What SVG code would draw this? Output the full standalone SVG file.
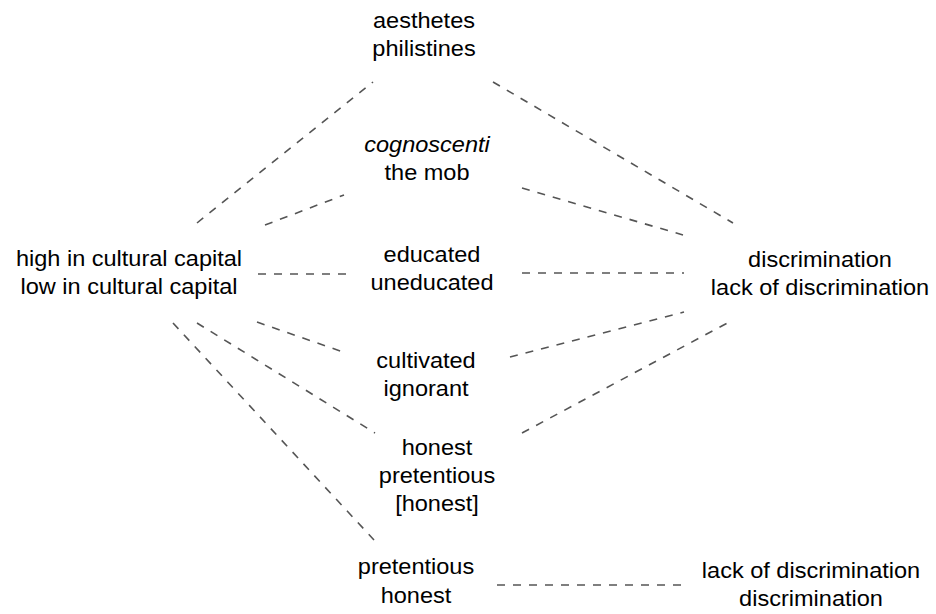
<svg xmlns="http://www.w3.org/2000/svg" width="936" height="614" viewBox="0 0 936 614">
<style>
text{font-family:"Liberation Sans",Arial,sans-serif;font-size:22px;fill:#000;text-anchor:middle}
.it{font-style:italic}
.c line{stroke:#555;stroke-width:1.6;stroke-dasharray:8 8;fill:none}
</style>
<rect width="936" height="614" fill="#fff"/>
<g class="c" id="connectors">
<line x1="197" y1="223" x2="373" y2="82"/>
<line x1="265" y1="225" x2="344" y2="195"/>
<line x1="258" y1="274" x2="349" y2="274"/>
<line x1="257" y1="322" x2="343" y2="352"/>
<line x1="197" y1="323" x2="375" y2="433"/>
<line x1="173" y1="323" x2="374" y2="540"/>
<line x1="493" y1="82" x2="733" y2="223"/>
<line x1="522" y1="188" x2="683" y2="235"/>
<line x1="522" y1="273" x2="684" y2="273"/>
<line x1="510" y1="357" x2="684" y2="312"/>
<line x1="522" y1="433" x2="733" y2="320"/>
<line x1="497" y1="585" x2="688" y2="585"/>
</g>
<g id="capital" transform="translate(129,0) scale(1.07,1)"><text x="0" y="266">high in cultural capital</text><text x="0" y="294">low in cultural capital</text></g>
<g id="discrimination" transform="translate(820,0) scale(1.07,1)"><text x="0" y="267">discrimination</text><text x="0" y="295">lack of discrimination</text></g>
<g id="aesthetes" transform="translate(424,0) scale(1.07,1)"><text x="0" y="28">aesthetes</text><text x="0" y="56">philistines</text></g>
<g id="cognoscenti" transform="translate(427,0) scale(1.07,1)"><text x="0" y="152" class="it">cognoscenti</text><text x="0" y="180">the mob</text></g>
<g id="educated" transform="translate(432,0) scale(1.07,1)"><text x="0" y="262">educated</text><text x="0" y="290">uneducated</text></g>
<g id="cultivated" transform="translate(426,0) scale(1.07,1)"><text x="0" y="368">cultivated</text><text x="0" y="396">ignorant</text></g>
<g id="honest" transform="translate(437,0) scale(1.07,1)"><text x="0" y="455">honest</text><text x="0" y="483">pretentious</text><text x="0" y="511">[honest]</text></g>
<g id="pretentious" transform="translate(416,0) scale(1.07,1)"><text x="0" y="574">pretentious</text><text x="0" y="603">honest</text></g>
<g id="lack" transform="translate(811,0) scale(1.07,1)"><text x="0" y="578">lack of discrimination</text><text x="0" y="606">discrimination</text></g>
</svg>
